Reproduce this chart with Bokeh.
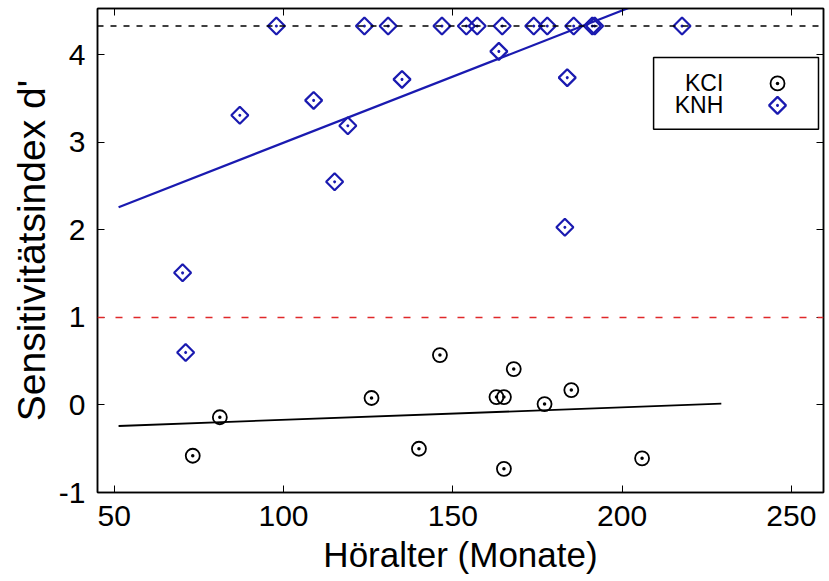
import numpy as np
from bokeh.plotting import figure
from bokeh.models import (LinearAxis, FixedTicker, Span, BoxAnnotation, Label,
                          Range1d, ColumnDataSource)
from bokeh.embed import file_html
from bokeh.resources import INLINE

# ---------------- data ----------------
kci_x = [73.2, 81.2, 126.0, 140.0, 146.2, 162.9, 165.1, 165.1, 168.0, 177.1, 185.0, 205.9]
kci_y = [-0.58, -0.14, 0.08, -0.50, 0.57, 0.09, 0.09, -0.73, 0.41, 0.01, 0.17, -0.61]

knh_x = [70.2, 71.1, 87.1, 97.9, 108.9, 115.1, 119.0, 123.9, 130.9, 135.0, 146.8,
         154.0, 157.2, 163.6, 164.6, 173.9, 177.9, 183.8, 183.1, 185.7, 191.2, 191.9, 217.7]
knh_y = [1.51, 0.60, 3.31, 4.33, 3.48, 2.55, 3.19, 4.33, 4.33, 3.72, 4.33,
         4.33, 4.33, 4.04, 4.33, 4.33, 4.33, 3.74, 2.03, 4.33, 4.33, 4.33, 4.33]

kci_fit_x = [51.3, 229.3]
kci_fit_y = [-0.24, 0.015]
knh_fit_x = [51.3, 229.3]
knh_fit_y = [2.26, 4.95]

ceiling_level = 4.33
criterion_level = 1.0

x_ticks = [50, 100, 150, 200, 250]
y_ticks = [-1, 0, 1, 2, 3, 4]
y_tick_labels = {-1: "-1", 0: "0", 1: "1", 2: "2", 3: "3", 4: "4"}
series_names = ["KCI", "KNH"]

# ---------------- style ----------------
BLUE = "#1a1ab0"
RED = "#e0282a"
FONT = "Liberation Sans"
X_RANGE = (45.07, 259.48)
Y_RANGE = (-1.0, 4.53)

p = figure(width=829, height=581, x_range=Range1d(*X_RANGE), y_range=Range1d(*Y_RANGE),
           output_backend="svg", toolbar_location=None,
           min_border_left=97, min_border_right=6, min_border_top=8, min_border_bottom=89,
           background_fill_color="white", border_fill_color="white")
p.xgrid.visible = False
p.ygrid.visible = False
p.outline_line_color = "black"
p.outline_line_width = 1.5

def style_axis(ax, labels=True):
    ax.axis_line_color = "black"
    ax.axis_line_width = 1.5
    ax.major_tick_in = 7
    ax.major_tick_out = 0
    ax.major_tick_line_color = "black"
    ax.major_tick_line_width = 1
    ax.minor_tick_line_color = None
    if labels:
        ax.major_label_text_font = FONT
        ax.major_label_text_font_size = "30px"
        ax.major_label_text_color = "black"
        ax.axis_label_text_font = FONT
        ax.axis_label_text_font_style = "normal"
        ax.axis_label_text_color = "black"
    else:
        ax.major_label_text_font_size = "0px"
        ax.major_label_text_color = None
        ax.major_label_standoff = 0
        ax.axis_label = None

xax = p.xaxis[0]
yax = p.yaxis[0]
xax.ticker = FixedTicker(ticks=x_ticks)
yax.ticker = FixedTicker(ticks=y_ticks)
yax.major_label_overrides = y_tick_labels
style_axis(xax)
style_axis(yax)
xax.axis_label = "Höralter (Monate)"
xax.axis_label_text_font_size = "35px"
xax.major_label_standoff = 13
xax.axis_label_standoff = 6
yax.axis_label = "Sensitivitätsindex d'"
yax.axis_label_text_font_size = "39px"
yax.major_label_standoff = 12
yax.axis_label_standoff = 3

top_ax = LinearAxis(ticker=FixedTicker(ticks=x_ticks))
right_ax = LinearAxis(ticker=FixedTicker(ticks=y_ticks))
style_axis(top_ax, labels=False)
style_axis(right_ax, labels=False)
p.add_layout(top_ax, "above")
p.add_layout(right_ax, "right")

# reference lines
p.add_layout(Span(location=ceiling_level, dimension="width", line_color="black",
                  line_dash="6 7", line_width=1.5))
p.add_layout(Span(location=criterion_level, dimension="width", line_color=RED,
                  line_dash="7 11", line_width=1.5))

# fit lines
p.line(kci_fit_x, kci_fit_y, line_color="black", line_width=1.8)
p.line(knh_fit_x, knh_fit_y, line_color=BLUE, line_width=2.2)

# points
kci_src = ColumnDataSource(dict(x=kci_x, y=kci_y))
knh_src = ColumnDataSource(dict(x=knh_x, y=knh_y))
p.scatter("x", "y", source=kci_src, marker="circle_dot", size=14, fill_color=None,
          line_color="black", line_width=1.8)
p.scatter("x", "y", source=knh_src, marker="square_dot", size=12, angle=np.pi / 4,
          fill_color=None, line_color=BLUE, line_width=2.2)

# legend (MATLAB style: text left, marker right)
LEG = dict(left=209.3, right=258.0, top=3.971, bottom=3.149,
           text_x=229.9, marker_x=245.9, row_y=[3.674, 3.423])
p.add_layout(BoxAnnotation(left=LEG["left"], right=LEG["right"], top=LEG["top"],
                           bottom=LEG["bottom"], fill_color="white", fill_alpha=1.0,
                           line_color="black", line_alpha=1.0, line_width=1.5,
                           level="underlay"))
for name, yy in zip(series_names, LEG["row_y"]):
    p.add_layout(Label(x=LEG["text_x"], y=yy, text=name, text_align="right",
                       text_baseline="middle", text_font=FONT, text_font_size="23px",
                       text_color="black"))
p.scatter([LEG["marker_x"]], [LEG["row_y"][0]], marker="circle_dot", size=14,
          fill_color=None, line_color="black", line_width=1.8)
p.scatter([LEG["marker_x"]], [LEG["row_y"][1]], marker="square_dot", size=12,
          angle=np.pi / 4, fill_color=None, line_color=BLUE, line_width=2.2)

open("out.html", "w").write(file_html(p, INLINE))
